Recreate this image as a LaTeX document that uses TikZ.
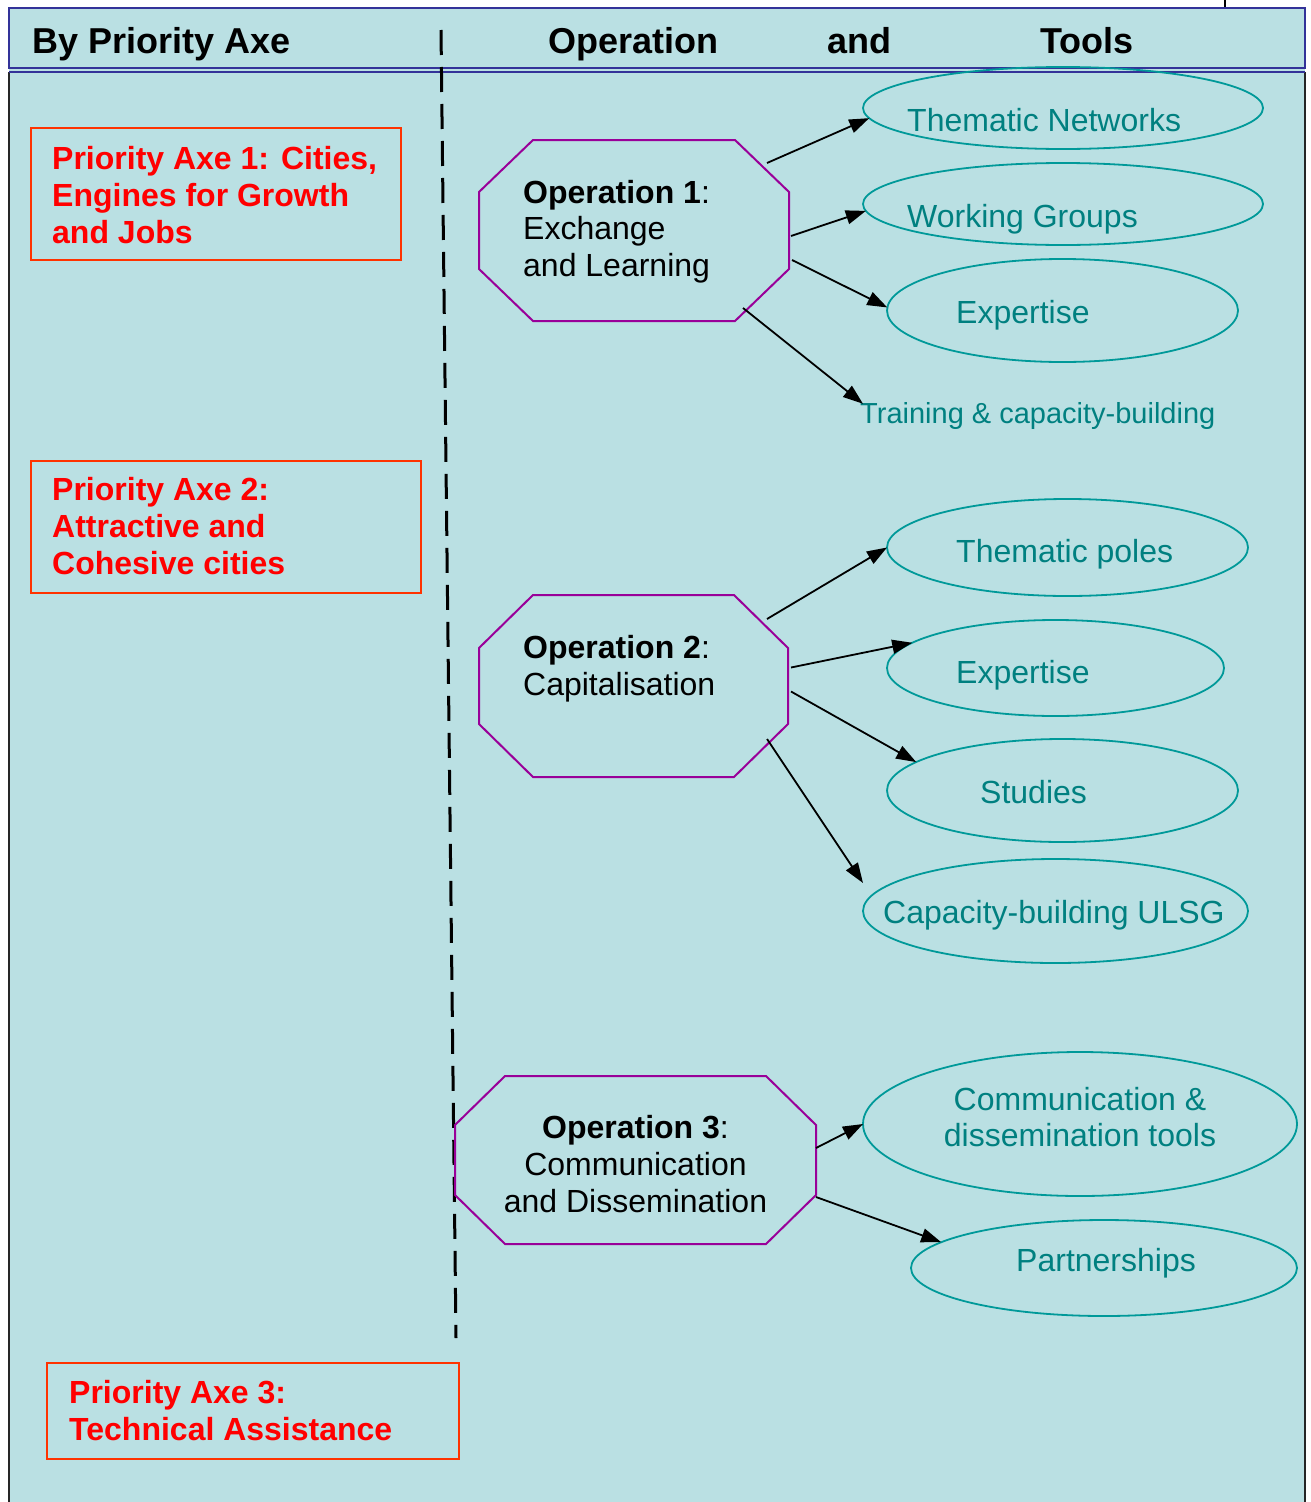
\documentclass[tikz,border=0pt]{standalone}
\usepackage{fontspec}
\setmainfont{Liberation Sans}
\usetikzlibrary{arrows.meta,calc,shapes.geometric}
\definecolor{panel}{RGB}{186,224,227}
\definecolor{hdrblue}{RGB}{51,51,153}
\definecolor{boxred}{RGB}{255,51,0}
\definecolor{toolteal}{RGB}{0,153,153}
\definecolor{tooltxt}{RGB}{0,128,128}
\definecolor{octpurple}{RGB}{153,0,153}
\newcommand\octdraw[3]{%
  \draw[octline] ($(#1.north west)+(#2,0)$) -- ($(#1.north east)+(-#2,0)$)
    -- ($(#1.north east)+(0,#3)$) -- ($(#1.south east)+(0,-#3)$)
    -- ($(#1.south east)+(-#2,0)$) -- ($(#1.south west)+(#2,0)$)
    -- ($(#1.south west)+(0,-#3)$) -- ($(#1.north west)+(0,#3)$) -- cycle;}
\begin{document}
\begin{tikzpicture}[x=1pt,y=-1pt,
  axebox/.style={draw=boxred, line width=2pt, inner sep=0pt, outer sep=0pt, anchor=north west},
  axetext/.style={text=red, font=\fontsize{32}{37}\selectfont\bfseries, align=left, inner sep=0pt, anchor=base west},
  hdr/.style={font=\fontsize{36}{40}\selectfont\bfseries, inner sep=0pt, anchor=base west},
  opshape/.style={inner sep=0pt, outer sep=0pt},
  optext/.style={font=\fontsize{32}{37}\selectfont, inner sep=0pt, align=left, anchor=base west},
  tool/.style={ellipse, draw=toolteal, line width=1.8pt, inner sep=0pt, outer sep=0pt},
  tooltext/.style={text=tooltxt, font=\fontsize{32}{36}\selectfont, inner sep=0pt, anchor=base west, align=left},
  arr/.style={-{Triangle[length=20pt,width=14pt]}, line width=1.8pt},
  octline/.style={draw=octpurple, line width=2pt, line join=miter},
  dashline/.style={line width=3pt, dash pattern=on 25pt off 12pt}
]
\useasboundingbox (0,0) rectangle (1311,1502);
\fill[white] (0,0) rectangle (1311,1502);
\fill[panel] (9,8) rectangle (1305,1502);
% side borders
\draw[black!85, line width=1.5pt] (9,72) -- (9,1502);
\draw[black!85, line width=1.5pt] (1305,72) -- (1305,1502);
\draw[black, line width=1.5pt] (1225,0) -- (1225,8);
% header
\draw[hdrblue, line width=2pt] (9,8) rectangle (1305,68);
\draw[hdrblue, line width=2pt] (9,71.5) -- (1305,71.5);
\node[hdr] (h1) at (32,53) {By Priority Axe};
\node[hdr] (h2) at (548,53) {Operation};
\node[hdr] (h3) at (827,53) {and};
\node[hdr] (h4) at (1040,53) {Tools};
% dashed divider
\coordinate (dtop) at (441,30);
\coordinate (dbot) at (456,1338);
\draw[dashline] (dtop) -- (dbot);
% priority axes
\node[axebox, minimum width=370pt, minimum height=132pt] (pa1) at (31,128) {};
\node[axetext] (pa1t) at (52,243) {Priority Axe 1: Cities,\\Engines for Growth\\and Jobs};
\node[axebox, minimum width=390pt, minimum height=132pt] (pa2) at (31,461) {};
\node[axetext] (pa2t) at (52,574) {Priority Axe 2:\\Attractive and\\Cohesive cities};
\node[axebox, minimum width=412pt, minimum height=96pt] (pa3) at (47,1363) {};
\node[axetext] (pa3t) at (69,1440) {Priority Axe 3:\\Technical Assistance};
% operations
\node[opshape, minimum width=310pt, minimum height=181pt] (op1) at (634,230.5) {};
\octdraw{op1}{54}{52}
\node[optext, font=\fontsize{32}{36.5}\selectfont] (op1t) at (523,276) {\textbf{Operation 1}:\\Exchange\\and Learning};
\node[opshape, minimum width=309pt, minimum height=182pt] (op2) at (633.5,686) {};
\octdraw{op2}{54}{53}
\node[optext] (op2t) at (523,695) {\textbf{Operation 2}:\\Capitalisation};
\node[opshape, minimum width=361pt, minimum height=168pt] (op3) at (635.5,1160) {};
\octdraw{op3}{50}{49}
\node[optext, align=center, anchor=base] (op3t) at (635.5,1212) {\textbf{Operation 3}:\\Communication\\and Dissemination};
% tools
\node[tool, minimum width=400pt, minimum height=82pt] (tn) at (1063,108) {};
\node[tooltext] (tnt) at (907,131) {Thematic Networks};
\node[tool, minimum width=400pt, minimum height=82pt] (wg) at (1063,204) {};
\node[tooltext] (wgt) at (907,227) {Working Groups};
\node[tool, minimum width=351pt, minimum height=103pt] (ex1) at (1062.5,310.5) {};
\node[tooltext] (ex1t) at (956,323) {Expertise};
\node[tooltext, font=\fontsize{29}{33}\selectfont] (tr) at (860,423) {Training \& capacity-building};
\node[tool, minimum width=361pt, minimum height=97pt] (tp) at (1067.5,547.5) {};
\node[tooltext] (tpt) at (956,562) {Thematic poles};
\node[tool, minimum width=337pt, minimum height=96pt] (ex2) at (1055.5,668) {};
\node[tooltext] (ex2t) at (956,683) {Expertise};
\node[tool, minimum width=351pt, minimum height=103pt] (st) at (1062.5,790.5) {};
\node[tooltext] (stt) at (980,803) {Studies};
\node[tool, minimum width=385pt, minimum height=104pt] (cb) at (1055.5,911) {};
\node[tooltext] (cbt) at (883,923) {Capacity-building ULSG};
\node[tool, minimum width=434pt, minimum height=144pt] (cd) at (1080,1124) {};
\node[tooltext, align=center, anchor=base] (cdt) at (1080,1146) {Communication \&\\dissemination tools};
\node[tool, minimum width=386pt, minimum height=96pt] (pa) at (1104,1268) {};
\node[tooltext] (pat) at (1016,1271) {Partnerships};
% connectors
\draw[arr] ($(op1.north east)+(-22,23)$) -- (tn.183);
\draw[arr] ($(op1.east)+(2,5.5)$) -- (wg.182);
\draw[arr] ($(op1.east)+(3,29.5)$) -- (ex1.179);
\draw[arr] ($(op1.south east)+(-46,-13)$) -- ($(tr.north west)+(3,2)$);
\draw[arr] ($(op2.north east)+(-21,24)$) -- (tp.180.5);
\draw[arr] ($(op2.east)+(3,-18.5)$) -- (ex2.170.5);
\draw[arr] ($(op2.east)+(3,5.5)$) -- (st.169.6);
\draw[arr] ($(op2.south east)+(-21,-38)$) -- ($(cb.west)+(0,-28)$);
\draw[arr] ($(op3.east)+(0,-12)$) -- (cd.west);
\draw[arr] ($(op3.east)+(0,37)$) -- (pa.171.6);
\end{tikzpicture}
\end{document}
